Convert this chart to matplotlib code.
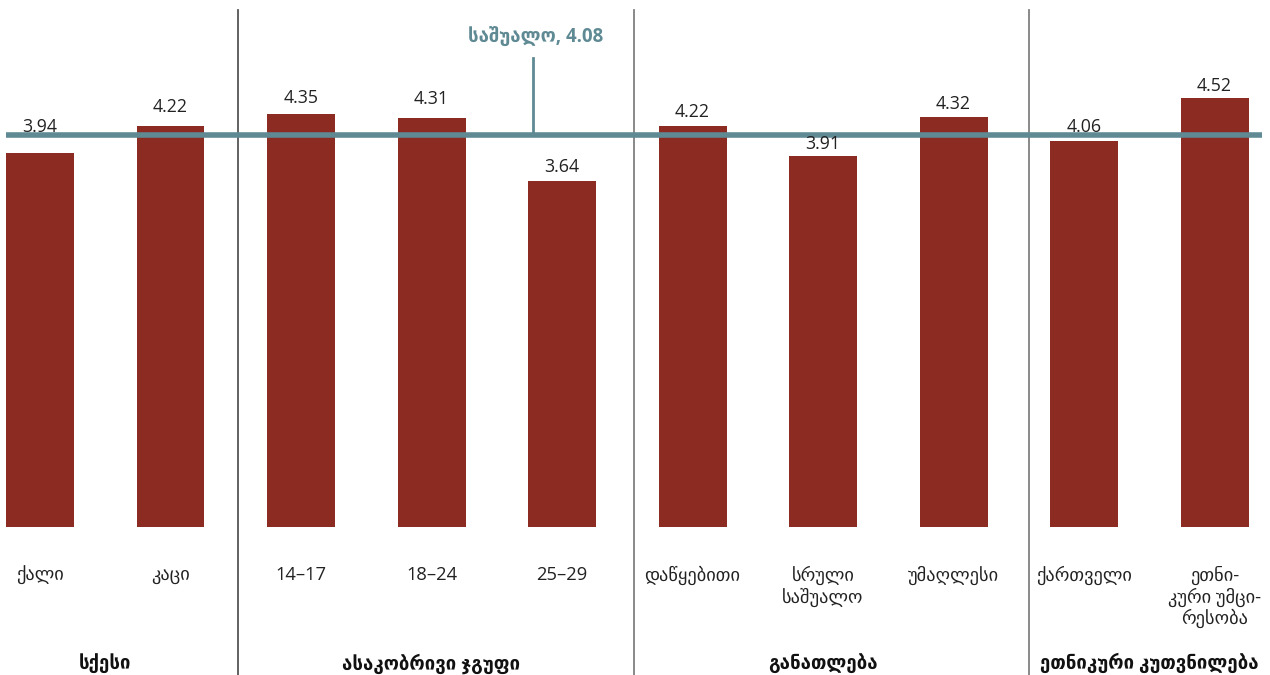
import matplotlib
matplotlib.use("Agg")
import matplotlib.pyplot as plt
import matplotlib.transforms as mtransforms

plt.rcParams['font.family'] = ['Open Sans', 'DejaVu Sans']

categories = ["ქალი", "კაცი", "14–17", "18–24", "25–29",
              "დაწყებითი", "სრული\nსაშუალო", "უმაღლესი",
              "ქართველი", "ეთნი-\nკური უმცი-\nრესობა"]
values = [3.94, 4.22, 4.35, 4.31, 3.64, 4.22, 3.91, 4.32, 4.06, 4.52]
groups = ["სქესი", "ასაკობრივი ჯგუფი", "განათლება", "ეთნიკური კუთვნილება"]
group_members = [[0, 1], [2, 3, 4], [5, 6, 7], [8, 9]]
average = 4.08
average_label = "საშუალო, 4.08"

# label gaps above bars (pixels)
label_gap_px = [21, 14, 11, 14, 9, 9, 7, 8, 9, 7]
separators = [1.517, 4.552, 7.58]

BAR = '#8b2b22'
AVG = '#5f8a94'
TXT = '#222222'

fig = plt.figure(figsize=(12.7, 6.75), dpi=100)
ax = fig.add_axes([0, 0, 1, 1])
ax.set_xlim(-0.3065, 9.425)
ax.set_ylim(-1.563, 5.55)
ax.axis('off')

x = list(range(len(values)))
ax.bar(x, values, width=0.521, color=BAR, zorder=2)

px2pt = 72 / 100
for xi, v, g in zip(x, values, label_gap_px):
    ax.annotate(f"{v:.2f}", (xi, v), xytext=(0, g * px2pt), textcoords='offset points',
                ha='center', va='baseline', fontsize=12.8, color=TXT, zorder=4)

# average line (slightly offset upward as in reference)
off = mtransforms.offset_copy(ax.transData, fig=fig, x=0, y=4 * px2pt, units='points')
ax.plot([-0.26, 9.36], [average, average], color=AVG, lw=4, transform=off, zorder=3,
        solid_capstyle='butt')
ax.plot([3.778, 3.778], [average, 4.9], color=AVG, lw=2, transform=off, zorder=3)
ax.text(3.8, 1 - 38 / 675, average_label, transform=ax.get_xaxis_transform(),
        ha='center', va='center', fontsize=13.4, fontweight='bold', color=AVG)

# separators
sep_colors = ['#555555', '#808080', '#808080']
for s, sc in zip(separators, sep_colors):
    ax.plot([s, s], [0, 1 - 10 / 675], transform=ax.get_xaxis_transform(),
            color=sc, lw=1.3, zorder=1)

# category labels
for xi, c in zip(x, categories):
    ax.text(xi, 1 - 566 / 675, c, transform=ax.get_xaxis_transform(),
            ha='center', va='top', fontsize=13.2, color=TXT, linespacing=1.15)

# group labels
for gname, mem in zip(groups, group_members):
    cx = sum(mem) / len(mem)
    ax.text(cx, 1 - 664 / 675, gname, transform=ax.get_xaxis_transform(),
            ha='center', va='center', fontsize=13.4, fontweight='bold', color='#111111')

fig.savefig("out.png", dpi=100)
